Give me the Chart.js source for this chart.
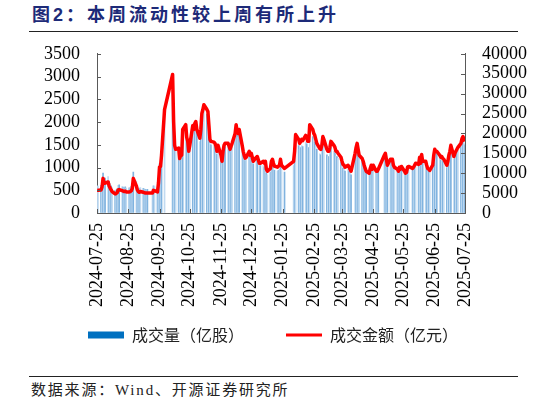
<!DOCTYPE html>
<html lang="zh-CN">
<head>
    <meta charset="UTF-8">
    <meta name="viewport" content="width=device-width, initial-scale=1.0">
    <script src="https://cdn.jsdelivr.net/npm/chart.js"></script>
    <title>本周流动性较上周有所上升</title>
    <style>
      body { margin: 0; width: 546px; height: 405px; background: #fff; position: relative; overflow: hidden;
             font-family: "Liberation Serif", "Noto Sans CJK SC", serif; }
      #title { position: absolute; left: 32px; top: 3px; font-family: "Liberation Sans", "Noto Sans CJK SC", sans-serif;
               font-size: 18px; line-height: 24px; font-weight: bold; color: #1d2a78; letter-spacing: 3px; }
      .rule { position: absolute; left: 29px; width: 489px; height: 0; border-top: 1px solid #222; }
      #wrap { position: absolute; left: 0; top: 26px; width: 546px; height: 327px; }
      #source { position: absolute; left: 31px; top: 380px; font-size: 15px; line-height: 20px; color: #222; letter-spacing: 1.8px; }
    </style>
</head>
<body>
    <div id="title">图2：本周流动性较上周有所上升</div>
    <div class="rule" style="top:31px"></div>
    <div class="rule" style="top:376px"></div>
    <div id="source">数据来源：Wind、开源证券研究所</div>
    <div id="wrap"><canvas id="myChart"></canvas></div>

    <script>
      // x axis tick labels (monthly, the 25th)
      const tickLabels = ['2024-07-25', '2024-08-25', '2024-09-25', '2024-10-25', '2024-11-25', '2024-12-25',
        '2025-01-25', '2025-02-25', '2025-03-25', '2025-04-25', '2025-05-25', '2025-06-25', '2025-07-25'];

      // exchange closed on these weekdays
      const holidays = ['2024-09-16', '2024-09-17', '2024-10-01', '2024-10-02', '2024-10-03', '2024-10-04', '2024-10-07',
        '2025-01-01', '2025-01-28', '2025-01-29', '2025-01-30', '2025-01-31', '2025-02-03', '2025-02-04',
        '2025-04-04', '2025-05-01', '2025-05-02', '2025-05-05', '2025-06-02'];

      // 成交金额（亿元）, one row per week
      const amountArr = [
        5800, 5700,
        5800, 6500, 8700, 7500, 7500,
        7800, 6800, 6300, 5800, 5400,
        4800, 4900, 5100, 5800, 5900,
        5600, 5500, 5400, 5500, 5300,
        5300, 5400, 5600, 6200, 8700,
        6800, 5800, 5400, 5200, 5400,
        5200, 5100, 5000, 5000, 5000,
        5000, 5700, 5600,
        5300, 7600, 11500, 11700, 14500,
        26000,
        34800, 23000, 17000, 16000,
        16300, 13700, 14500, 14500, 21000,
        22200, 19000, 18000, 15500, 17000,
        22000, 21000, 22500, 23000, 21000,
        18800, 21000, 25000, 26000, 27200,
        26000, 25500, 22000, 18500, 18000,
        17800, 17500, 16800, 15500, 17000,
        14500, 13000, 15500, 17000, 17500,
        17500, 16800, 16000, 16800, 17500,
        20000, 22200, 20500, 20000, 21000,
        17000, 15500, 14500, 13800, 14000,
        15500, 14500, 15000, 14000, 13000,
        14000, 14200, 12500, 12500,
        13000, 12500, 13000, 11000, 10500,
        11200, 13000, 13500, 12500, 11800,
        11500, 11800, 12000, 13500, 12000,
        11200,
        13000, 15500, 19700,
        18500, 17500, 18000, 18500, 18200,
        19500, 19000, 18000, 18000, 22200,
        21000, 20000, 19500, 18500, 17500,
        16200, 16000, 17000, 19200, 18500,
        16000, 15500, 15500, 16500, 18000,
        17000, 16500, 15500, 15500, 15000,
        14000, 13000, 12200, 12000, 11500,
        12000, 11500, 11000, 10500,
        15000, 16500, 17500, 16000, 14500,
        13700, 13000, 12000, 11200, 10500,
        10000, 11200, 12000, 11000, 12000,
        10500, 10500, 11000,
        14500, 15000, 13500, 12000,
        13500, 13500, 13500, 12000, 11500,
        11000, 10500, 11500, 11000, 11700,
        10500, 10000, 10200, 11500, 11700,
        11200, 11500, 12000, 12500,
        12200, 14000, 12500, 14700, 13000,
        13000, 12000, 11200, 11000, 10700,
        12000, 14500, 16000, 15500, 15500,
        14500, 14000, 14200, 13700, 13500,
        12000, 13000, 14500, 15500, 17000,
        14200, 15000, 15500, 16000, 16500,
        17500, 18700, 19200, 18500, 18000
      ];

      // 成交量（亿股）, one row per week
      const volumeArr = [
        600, 590,
        610, 680, 880, 780, 770,
        800, 700, 650, 600, 560,
        500, 510, 530, 610, 620,
        580, 570, 560, 575, 550,
        555, 565, 585, 650, 900,
        700, 600, 560, 540, 560,
        540, 530, 520, 515, 520,
        520, 600, 590,
        550, 760, 1080, 1070, 1280,
        2250,
        2950, 2000, 1480, 1400,
        1420, 1200, 1270, 1270, 1820,
        1900, 1650, 1560, 1360, 1480,
        1890, 1810, 1930, 1960, 1800,
        1570, 1750, 2080, 2170, 2270,
        2170, 2130, 1830, 1540, 1500,
        1480, 1460, 1400, 1290, 1420,
        1210, 1080, 1290, 1420, 1460,
        1460, 1400, 1330, 1400, 1460,
        1670, 1850, 1710, 1670, 1750,
        1420, 1290, 1210, 1150, 1170,
        1290, 1210, 1250, 1170, 1080,
        1170, 1180, 1040, 1040,
        1040, 1000, 1040, 880, 840,
        900, 1040, 1080, 1000, 940,
        920, 940, 960, 1080, 960,
        900,
        1040, 1240, 1580,
        1480, 1400, 1440, 1480, 1460,
        1560, 1520, 1440, 1440, 1780,
        1680, 1600, 1560, 1480, 1400,
        1300, 1280, 1360, 1540, 1480,
        1280, 1240, 1240, 1320, 1440,
        1360, 1320, 1240, 1240, 1200,
        1120, 1040, 980, 960, 920,
        960, 920, 880, 840,
        1300, 1420, 1480, 1350, 1230,
        1160, 1100, 1020, 950, 890,
        850, 950, 1020, 930, 1020,
        890, 890, 930,
        1230, 1270, 1140, 1020,
        1140, 1140, 1140, 1020, 970,
        930, 890, 970, 930, 990,
        890, 850, 860, 970, 990,
        950, 970, 1020, 1060,
        1030, 1190, 1060, 1250, 1100,
        1100, 1020, 950, 930, 910,
        1020, 1230, 1360, 1310, 1310,
        1210, 1170, 1180, 1140, 1120,
        1000, 1080, 1210, 1290, 1420,
        1180, 1250, 1290, 1330, 1380,
        1460, 1560, 1600, 1540, 1500
      ];

      const leftTicks = [0, 500, 1000, 1500, 2000, 2500, 3000, 3500];
      const rightTicks = [0, 5000, 10000, 15000, 20000, 25000, 30000, 35000, 40000];

      const DAY = 86400000;
      const startTime = Date.UTC(2024, 6, 25);
      const endTime = Date.UTC(2025, 6, 25);

      function dayOffset(str) {
        const [y, m, d] = str.split('-').map(Number);
        return Math.round((Date.UTC(y, m - 1, d) - startTime) / DAY);
      }

      // trading days as day offsets from 2024-07-25
      const tradeDays = [];
      for (let t = startTime; t <= endTime; t += DAY) {
        const dt = new Date(t);
        const wd = dt.getUTCDay();
        const s = dt.toISOString().slice(0, 10);
        if (wd === 0 || wd === 6 || holidays.includes(s)) continue;
        tradeDays.push(Math.round((t - startTime) / DAY));
      }
      if (tradeDays.length !== amountArr.length || tradeDays.length !== volumeArr.length) {
        console.log('length mismatch', tradeDays.length, amountArr.length, volumeArr.length);
      }

      const tickOffsets = tickLabels.map(dayOffset);
      const tickFont = { family: '"Liberation Serif", "Times New Roman", serif', size: 18 };
      const axisColor = '#595959';

      // Excel style ticks drawn inside the plot area
      const innerTicks = {
        id: 'innerTicks',
        afterDatasetsDraw(chart) {
          const { ctx, chartArea, scales } = chart;
          ctx.save();
          ctx.strokeStyle = axisColor;
          ctx.lineWidth = 1;
          ctx.beginPath();
          scales.x.ticks.forEach(t => {
            const px = Math.round(scales.x.getPixelForValue(t.value)) + 0.5;
            ctx.moveTo(px, chartArea.bottom);
            ctx.lineTo(px, chartArea.bottom - 4);
          });
          scales.y.ticks.forEach(t => {
            const py = Math.round(scales.y.getPixelForValue(t.value)) + 0.5;
            ctx.moveTo(chartArea.left, py);
            ctx.lineTo(chartArea.left + 4, py);
          });
          scales.y1.ticks.forEach(t => {
            const py = Math.round(scales.y1.getPixelForValue(t.value)) + 0.5;
            ctx.moveTo(chartArea.right, py);
            ctx.lineTo(chartArea.right - 4, py);
          });
          ctx.stroke();
          ctx.restore();
        }
      };

      new Chart(document.getElementById('myChart'), {
        data: {
          datasets: [{
            type: 'bar',
            label: '成交量（亿股）',
            data: tradeDays.map((d, i) => ({ x: d, y: volumeArr[i] })),
            yAxisID: 'y',
            backgroundColor: c => (c.dataIndex % 2 ? '#c2dbf1' : '#80b3df'),
            barPercentage: 1,
            categoryPercentage: 1,
            order: 2
          }, {
            type: 'line',
            label: '成交金额（亿元）',
            data: tradeDays.map((d, i) => ({ x: d, y: amountArr[i] })),
            yAxisID: 'y1',
            borderColor: '#ff0000',
            borderWidth: 3.5,
            borderJoinStyle: 'round',
            pointRadius: 0,
            tension: 0,
            order: 1
          }]
        },
        options: {
          responsive: true,
          maintainAspectRatio: false,
          animation: false,
          layout: { padding: 0 },
          plugins: {
            tooltip: { enabled: false },
            legend: {
              position: 'bottom',
              labels: {
                usePointStyle: true,
                pointStyleWidth: 36,
                boxHeight: 7,
                padding: 18,
                color: '#222',
                font: { family: '"Noto Sans CJK SC", sans-serif', size: 16 },
                generateLabels: chart => {
                  const ds = chart.data.datasets;
                  // the ideographic spaces widen the gap between the two items
                  return [
                    { text: ds[0].label + '\u3000\u3000', fillStyle: '#0070c0', strokeStyle: '#0070c0', lineWidth: 0,
                      pointStyle: 'rect', datasetIndex: 0, hidden: false, fontColor: '#222' },
                    { text: ds[1].label, fillStyle: '#ff0000', strokeStyle: '#ff0000', lineWidth: 3,
                      pointStyle: 'line', datasetIndex: 1, hidden: false, fontColor: '#222' }
                  ];
                }
              }
            }
          },
          scales: {
            x: {
              type: 'linear',
              min: 0,
              max: dayOffset('2025-07-25'),
              offset: false,
              grid: { drawOnChartArea: false, drawTicks: false },
              border: { color: axisColor, width: 1 },
              afterBuildTicks: s => { s.ticks = tickOffsets.map(v => ({ value: v })); },
              afterFit: s => { s.height = 96; },
              ticks: {
                autoSkip: false,
                maxRotation: 90,
                minRotation: 90,
                padding: 10,
                color: '#000',
                font: tickFont,
                callback: v => {
                  const i = tickOffsets.indexOf(Math.round(v));
                  return i >= 0 ? tickLabels[i] : '';
                }
              }
            },
            y: {
              position: 'left',
              min: 0,
              max: 3500,
              grid: { drawOnChartArea: false, drawTicks: false },
              border: { color: axisColor, width: 1 },
              afterBuildTicks: s => { s.ticks = leftTicks.map(v => ({ value: v })); },
              afterFit: s => { s.width = 97; },
              ticks: { autoSkip: false, padding: 17, color: '#000', font: tickFont, callback: v => String(v) }
            },
            y1: {
              position: 'right',
              min: 0,
              max: 40000,
              grid: { drawOnChartArea: false, drawTicks: false },
              border: { color: axisColor, width: 1 },
              afterBuildTicks: s => { s.ticks = rightTicks.map(v => ({ value: v })); },
              afterFit: s => { s.width = 81; },
              ticks: { autoSkip: false, padding: 17, color: '#000', font: tickFont, callback: v => String(v) }
            }
          }
        },
        plugins: [innerTicks]
      });
    </script>
</body>
</html>
